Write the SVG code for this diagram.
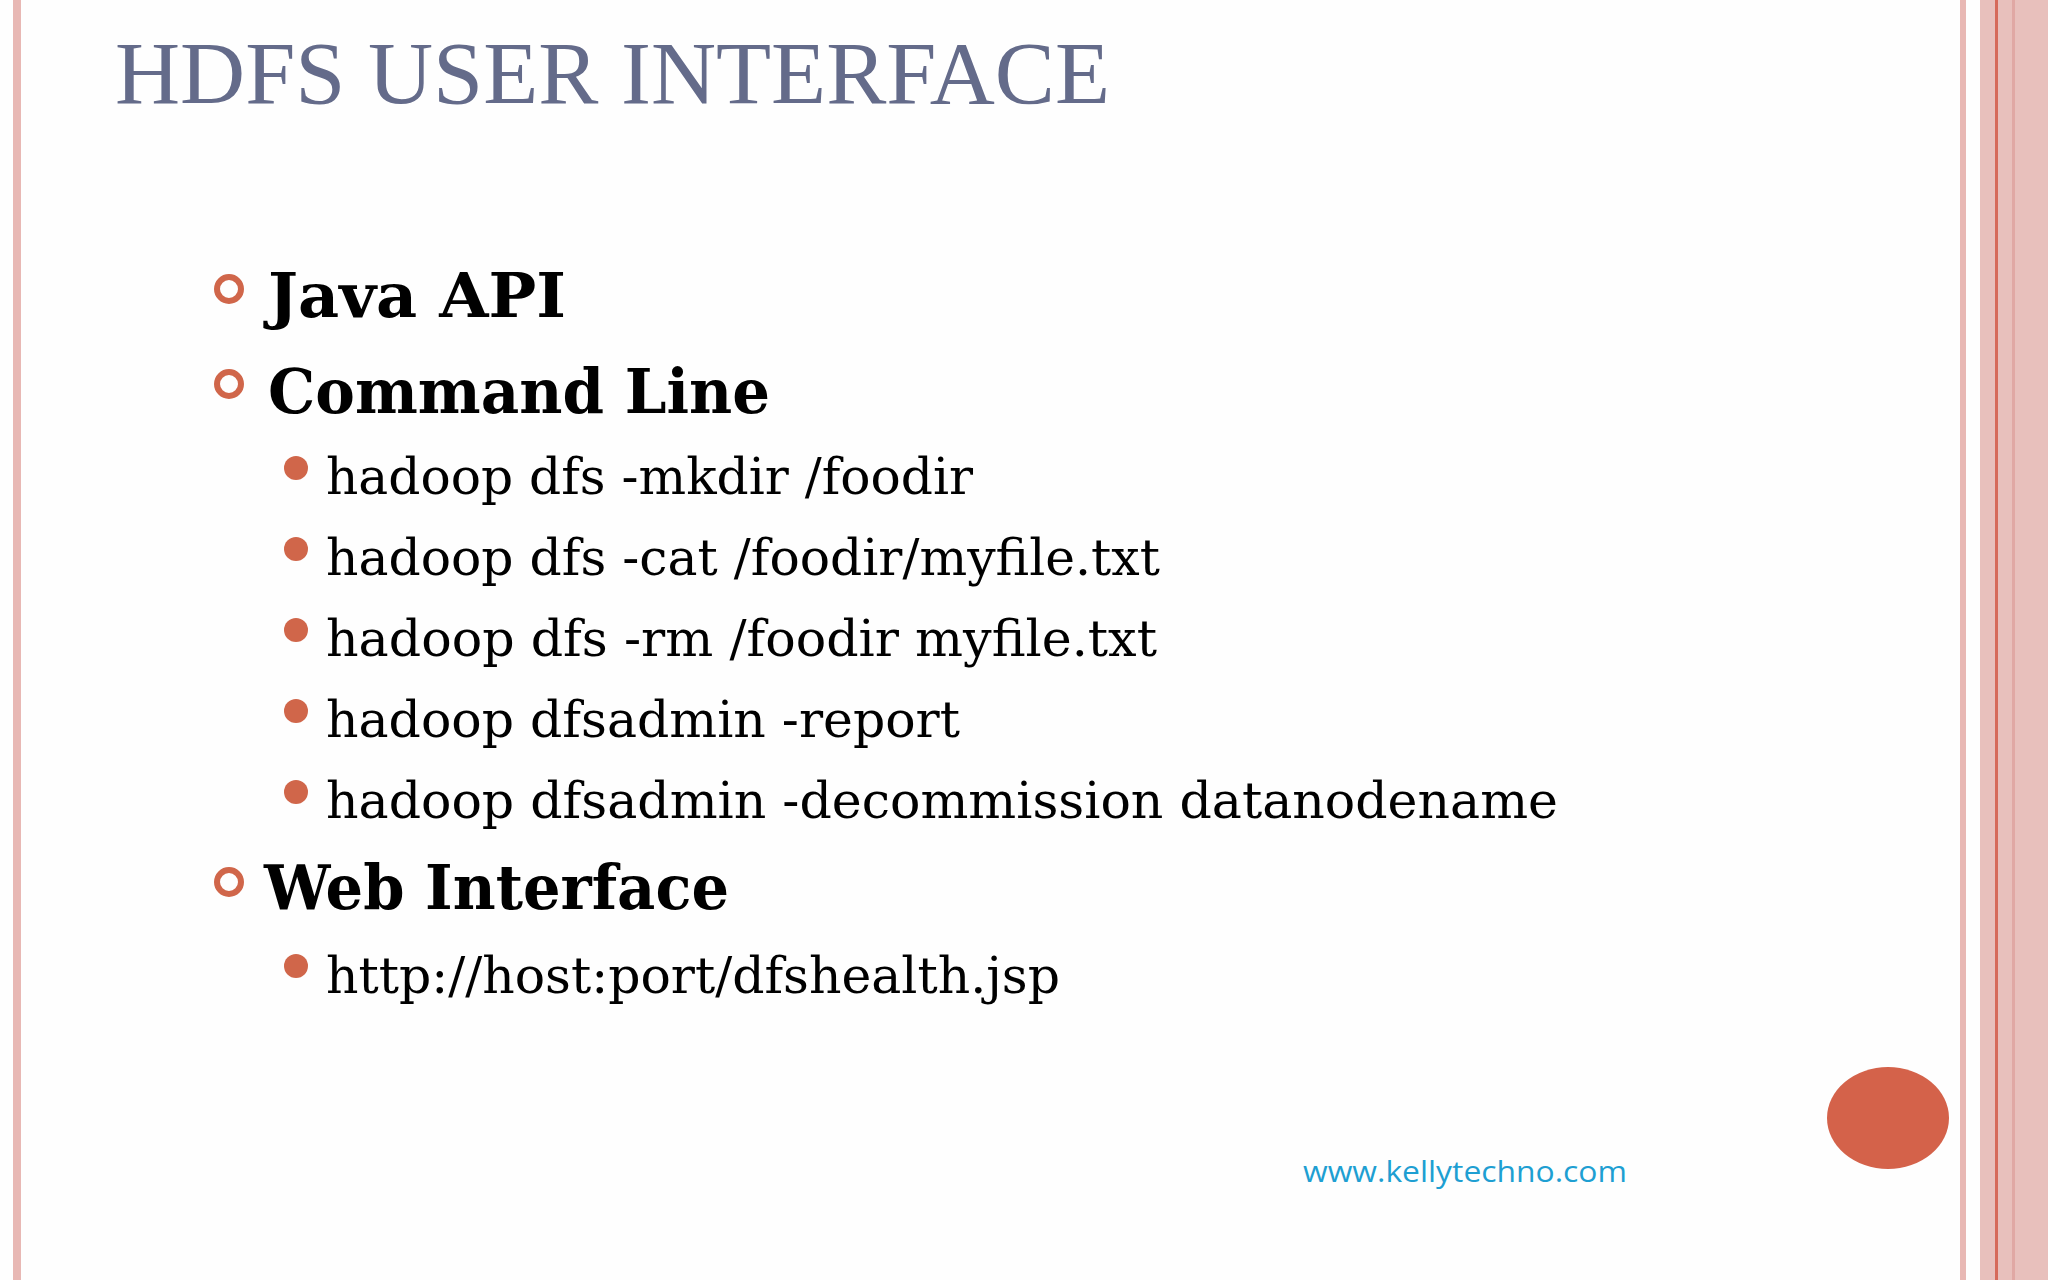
<svg xmlns="http://www.w3.org/2000/svg" width="2048" height="1280" viewBox="0 0 2048 1280">
<style>
.h{font-family:"DejaVu Serif","Liberation Serif",serif;font-weight:bold;font-size:62px;fill:#000}
.s{font-family:"DejaVu Serif","Liberation Serif",serif;font-size:50px;fill:#000}
.ring{fill:none;stroke:#d0664a;stroke-width:6}
.dot{fill:#d0664a}
</style>
<rect width="2048" height="1280" fill="#fefefe"/>
<rect x="13" y="0" width="8" height="1280" fill="#e8b8b4"/>
<rect x="1960" y="0" width="6" height="1280" fill="#e8b8b4"/>
<rect x="1980" y="0" width="68" height="1280" fill="#e8c0bc"/>
<rect x="1995" y="0" width="3" height="1280" fill="#d66a5a"/>
<rect x="2012" y="0" width="3" height="1280" fill="#e0a8a4"/>
<text x="115" y="103" font-family="Liberation Serif,serif" font-size="88" fill="#646b8a" textLength="995" lengthAdjust="spacingAndGlyphs">HDFS USER INTERFACE</text>
<g id="java"><circle class="ring" cx="229" cy="289" r="12"/><text class="h" x="268" y="317" textLength="298" lengthAdjust="spacingAndGlyphs">Java API</text></g>
<g id="cmd"><circle class="ring" cx="229" cy="384" r="12"/><text class="h" x="268" y="413" textLength="502" lengthAdjust="spacingAndGlyphs">Command Line</text></g>
<g id="sub1"><circle class="dot" cx="296" cy="468" r="12"/><text class="s" x="326" y="494" textLength="647" lengthAdjust="spacingAndGlyphs">hadoop dfs -mkdir /foodir</text></g>
<g id="sub2"><circle class="dot" cx="296" cy="549" r="12"/><text class="s" x="326" y="575" textLength="834" lengthAdjust="spacingAndGlyphs">hadoop dfs -cat /foodir/myfile.txt</text></g>
<g id="sub3"><circle class="dot" cx="296" cy="630" r="12"/><text class="s" x="326" y="656" textLength="831" lengthAdjust="spacingAndGlyphs">hadoop dfs -rm /foodir myfile.txt</text></g>
<g id="sub4"><circle class="dot" cx="296" cy="711" r="12"/><text class="s" x="326" y="737" textLength="634" lengthAdjust="spacingAndGlyphs">hadoop dfsadmin -report</text></g>
<g id="sub5"><circle class="dot" cx="296" cy="792" r="12"/><text class="s" x="326" y="818" textLength="1232" lengthAdjust="spacingAndGlyphs">hadoop dfsadmin -decommission datanodename</text></g>
<g id="web"><circle class="ring" cx="229" cy="882" r="12"/><text class="h" x="264" y="909" textLength="465" lengthAdjust="spacingAndGlyphs">Web Interface</text></g>
<g id="sub6"><circle class="dot" cx="296" cy="966" r="12"/><text class="s" x="326" y="993" textLength="734" lengthAdjust="spacingAndGlyphs">http://host:port/dfshealth.jsp</text></g>
<ellipse cx="1888" cy="1118" rx="61" ry="51" fill="#d4624a"/>
<text x="1303" y="1182" font-family="Open Sans,sans-serif" font-size="30" fill="#1e9fd2" textLength="324" lengthAdjust="spacingAndGlyphs">www.kellytechno.com</text>
</svg>
